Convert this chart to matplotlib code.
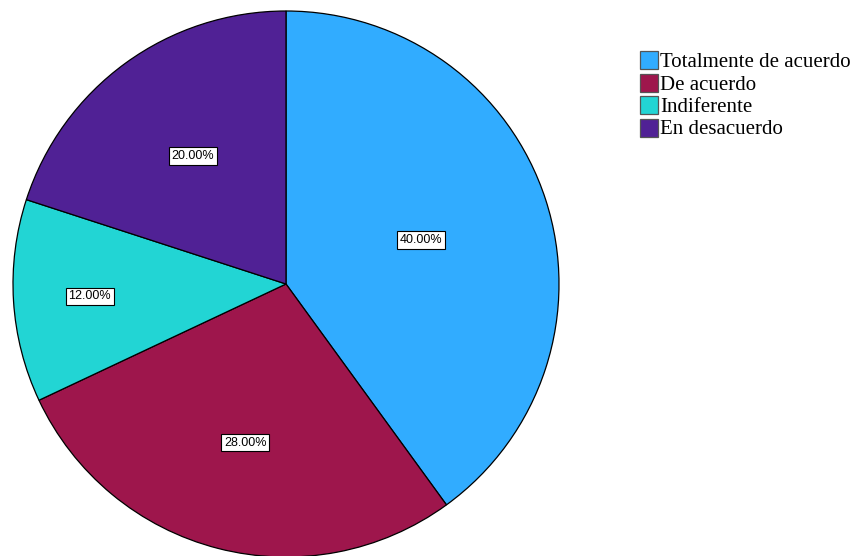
import numpy as np
import matplotlib.pyplot as plt
from matplotlib.patches import Rectangle

categories = ['Totalmente de acuerdo', 'De acuerdo', 'Indiferente', 'En desacuerdo']
percentages = [40.0, 28.0, 12.0, 20.0]
colors = ['#31acff', '#9e164c', '#22d5d4', '#502195']
label_radius = [0.52, 0.60, 0.72, 0.58]


def main():
    fig = plt.figure(figsize=(8.56, 5.56), dpi=100)
    W, H = 856, 556
    cx, cy, r = 286, 284, 273
    ax = fig.add_axes([(cx - r) / W, (H - cy - r) / H, 2 * r / W, 2 * r / H])

    ax.pie(percentages, colors=colors, startangle=90, counterclock=False,
           radius=1.0, wedgeprops=dict(edgecolor='black', linewidth=0.9))
    ax.set_xlim(-1, 1)
    ax.set_ylim(-1, 1)
    ax.set_aspect('equal')
    ax.axis('off')

    # labels inside slices
    start = 90.0
    for p, lr in zip(percentages, label_radius):
        mid = np.deg2rad(start - p * 3.6 / 2)
        start -= p * 3.6
        ax.text(lr * np.cos(mid), lr * np.sin(mid), '{:.2f}%'.format(p),
                ha='center', va='center', fontsize=9, family='Liberation Sans',
                bbox=dict(boxstyle='square,pad=0.22', facecolor='white',
                          edgecolor='black', linewidth=0.8))

    # legend drawn in pixel coords on an overlay
    lax = fig.add_axes([0, 0, 1, 1])
    lax.set_xlim(0, W)
    lax.set_ylim(H, 0)
    lax.axis('off')
    for i, (c, name) in enumerate(zip(colors, categories)):
        top = 51 + 22.5 * i
        lax.add_patch(Rectangle((640, top), 18, 18, facecolor=c, edgecolor='#555555', linewidth=0.9))
        lax.text(660, top + 16, name, family='Liberation Serif', fontsize=15,
                 ha='left', va='baseline')

    fig.savefig('out.png', dpi=100)


if __name__ == '__main__':
    main()
